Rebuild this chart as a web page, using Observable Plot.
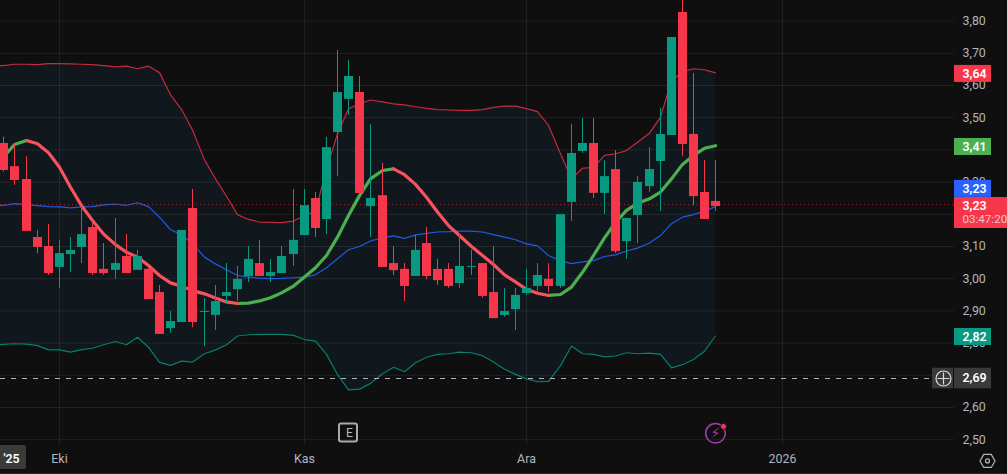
<!DOCTYPE html>
<html>
<head>
<meta charset="utf-8">
<script src="https://cdn.jsdelivr.net/npm/d3@7"></script>
<script src="https://cdn.jsdelivr.net/npm/@observablehq/plot@0.6"></script>
<style>
html,body{margin:0;padding:0;background:#0f0f0f;overflow:hidden}
svg{display:block}
</style>
</head>
<body>
<div id="chart"></div>
<script>
const open  = [3.420,3.348,3.308,3.128,3.100,3.035,3.075,3.097,3.159,3.029,3.026,3.069,3.026,3.029,2.957,2.845,2.864,3.218,2.895,2.886,2.945,2.966,3.007,3.047,3.007,3.016,3.075,3.134,3.249,3.184,3.454,3.557,3.578,3.224,3.258,3.047,3.029,3.007,3.109,3.029,3.029,2.985,3.035,3.047,2.957,2.886,2.904,2.954,2.976,2.998,2.976,3.237,3.395,3.420,3.265,3.339,3.115,3.196,3.286,3.364,3.445,3.827,3.448,3.268,3.240];
const close = [3.336,3.305,3.147,3.097,3.016,3.078,3.088,3.137,3.016,3.016,3.047,3.016,3.069,2.935,2.827,2.867,3.150,2.864,2.898,2.929,2.957,2.998,3.060,3.007,3.019,3.069,3.119,3.227,3.156,3.407,3.578,3.628,3.265,3.249,3.035,3.025,2.976,3.088,3.007,2.994,2.976,3.038,3.038,2.945,2.876,2.898,2.948,2.970,3.010,2.976,3.199,3.389,3.420,3.265,3.317,3.084,3.187,3.299,3.339,3.448,3.749,3.417,3.255,3.184,3.224];
const high  = [3.440,3.419,3.379,3.150,3.168,3.119,3.128,3.224,3.178,3.109,3.187,3.137,3.088,3.038,2.979,2.898,3.150,3.277,2.938,2.979,3.047,3.038,3.100,3.119,3.060,3.100,3.277,3.277,3.268,3.439,3.709,3.678,3.628,3.479,3.358,3.100,3.047,3.134,3.159,3.060,3.047,3.137,3.088,3.047,3.100,2.970,2.970,3.029,3.047,3.047,3.199,3.479,3.498,3.498,3.367,3.398,3.187,3.317,3.407,3.529,3.749,3.900,3.637,3.367,3.367];
const low   = [3.331,3.290,3.147,3.078,3.010,2.970,3.019,3.047,3.010,3.010,2.998,3.016,3.026,2.935,2.827,2.830,2.864,2.848,2.789,2.839,2.920,2.929,2.988,3.007,2.988,3.016,3.038,3.134,3.128,3.137,3.317,3.507,3.265,3.128,3.035,3.010,2.929,3.007,2.997,2.979,2.970,2.970,3.010,2.939,2.876,2.880,2.839,2.948,2.960,2.957,2.970,3.178,3.389,3.249,3.199,3.078,3.060,3.109,3.268,3.209,3.445,3.380,3.227,3.184,3.209];
// Bollinger bands: first value belongs to the bar just left of the visible window
const upper = [3.661,3.662,3.666,3.666,3.665,3.668,3.668,3.667,3.666,3.665,3.662,3.658,3.660,3.652,3.660,3.640,3.571,3.526,3.462,3.369,3.310,3.256,3.199,3.184,3.176,3.175,3.174,3.179,3.196,3.210,3.341,3.450,3.528,3.543,3.555,3.549,3.543,3.540,3.534,3.529,3.525,3.524,3.523,3.523,3.525,3.532,3.536,3.536,3.528,3.519,3.476,3.388,3.310,3.343,3.346,3.383,3.388,3.398,3.424,3.452,3.502,3.615,3.643,3.652,3.649,3.639];
const basis = [3.227,3.228,3.233,3.230,3.227,3.224,3.223,3.220,3.223,3.224,3.229,3.232,3.228,3.236,3.224,3.191,3.152,3.137,3.108,3.067,3.046,3.028,3.010,3.005,3.002,3.000,3.001,3.003,3.005,3.012,3.034,3.062,3.090,3.100,3.117,3.127,3.133,3.125,3.136,3.141,3.145,3.146,3.148,3.148,3.145,3.137,3.129,3.121,3.108,3.102,3.072,3.056,3.047,3.052,3.056,3.069,3.074,3.086,3.095,3.111,3.134,3.171,3.191,3.199,3.210,3.224];
const lower = [2.795,2.796,2.798,2.797,2.792,2.779,2.779,2.772,2.780,2.784,2.795,2.805,2.795,2.818,2.787,2.740,2.731,2.744,2.741,2.767,2.779,2.795,2.822,2.826,2.827,2.827,2.827,2.824,2.811,2.806,2.765,2.702,2.655,2.657,2.675,2.705,2.725,2.711,2.739,2.756,2.765,2.767,2.772,2.770,2.761,2.741,2.719,2.703,2.689,2.680,2.681,2.730,2.791,2.767,2.765,2.757,2.760,2.770,2.767,2.769,2.765,2.723,2.733,2.749,2.775,2.822];
const movingAvg = [3.378,3.417,3.429,3.419,3.391,3.346,3.284,3.227,3.181,3.139,3.106,3.082,3.067,3.041,3.010,2.987,2.977,2.963,2.953,2.940,2.928,2.923,2.924,2.931,2.941,2.956,2.977,3.005,3.034,3.072,3.129,3.196,3.258,3.310,3.336,3.341,3.323,3.293,3.253,3.207,3.165,3.134,3.100,3.072,3.044,3.012,2.990,2.967,2.955,2.948,2.951,2.974,3.020,3.072,3.127,3.175,3.212,3.234,3.248,3.269,3.310,3.355,3.383,3.405,3.413];

const gridPrices = [2.5,2.6,2.7,2.8,2.9,3.0,3.1,3.2,3.3,3.4,3.5,3.6,3.7,3.8];
// 2,70 / 3,20 / 3,40 are wholly covered by badges in the reference
const priceLabels = [2.5,2.6,2.8,2.9,3.0,3.1,3.3,3.5,3.6,3.7,3.8];
const monthBars = [5,27,47,70];
const monthLabels = ["Eki","Kas","Ara","2026"];
const lastPrice = 3.23, crosshairPrice = 2.69;
// badges: centre price (as stacked on the scale), text, colour
const badgePrice = [3.636,3.409,3.279,2.819];
const badgeText = ["3,64","3,41","3,23","2,82"];
const badgeColor = ["#f6374b","#4caf50","#2962ff","#089981"];

const RED="#f6374b", GREEN="#089981", comma=d=>d.toFixed(2).replace(".",",");
const bars=d3.range(open.length), lineBars=d3.range(-1,open.length);
const rising=i=>i>=0&&i<movingAvg.length-1&&movingAvg[i+1]>movingAvg[i];
const maGreen=i=>rising(i)||rising(i-1);
const maRed=i=>(i<movingAvg.length-1&&!rising(i))||(i>0&&!rising(i-1));
const up=i=>close[i]>=open[i];
const BH=0.0264, AX0=85.45, AXB=88.78, EDGE=90.3;
const FONT="Roboto, sans-serif";

const chart=Plot.plot({
  width:1007,height:474,marginLeft:0,marginRight:53,marginTop:0,marginBottom:29,
  style:{background:"#0f0f0f",fontFamily:FONT,fontSize:"12px"},
  x:{domain:[-0.3,85.45],round:true},
  y:{domain:[2.482,3.864]},
  marks:[
    Plot.areaY(lineBars,{x:i=>i,y1:i=>lower[i+1],y2:i=>upper[i+1],fill:"#11181d"}),
    Plot.ruleY(gridPrices,{stroke:"#fff",strokeOpacity:0.075,strokeWidth:1}),
    Plot.ruleX(monthBars,{stroke:"#fff",strokeOpacity:0.075,strokeWidth:1}),
    Plot.line(lineBars,{x:i=>i,y:i=>upper[i+1],stroke:"#c22a3e",strokeWidth:1.2}),
    Plot.line(lineBars,{x:i=>i,y:i=>lower[i+1],stroke:"#067f6c",strokeWidth:1.2}),
    Plot.line(lineBars,{x:i=>i,y:i=>basis[i+1],stroke:"#2458e4",strokeWidth:1.2}),
    Plot.ruleY([lastPrice],{stroke:RED,strokeOpacity:0.6,strokeWidth:1,strokeDasharray:"1 3"}),
    Plot.ruleY([crosshairPrice],{x1:-0.3,x2:83.45,stroke:"#b2b5be",strokeWidth:1,strokeDasharray:"5 6"}),
    Plot.line(bars,{x:i=>i,y:i=>maGreen(i)?movingAvg[i]:NaN,stroke:"#4caf50",strokeWidth:3.2}),
    Plot.line(bars,{x:i=>i,y:i=>maRed(i)?movingAvg[i]:NaN,stroke:"#f7525f",strokeWidth:3.2}),
    Plot.ruleX(bars.filter(up),{x:i=>i,y1:i=>low[i],y2:i=>high[i],stroke:GREEN,strokeWidth:1}),
    Plot.ruleX(bars.filter(i=>!up(i)),{x:i=>i,y1:i=>low[i],y2:i=>high[i],stroke:RED,strokeWidth:1}),
    Plot.ruleX(bars.filter(up),{x:i=>i,y1:i=>open[i],y2:i=>close[i],stroke:GREEN,strokeWidth:9}),
    Plot.ruleX(bars.filter(i=>!up(i)),{x:i=>i,y1:i=>open[i],y2:i=>close[i],stroke:RED,strokeWidth:9}),
    Plot.axisY({anchor:"right",ticks:priceLabels,tickSize:0,tickPadding:8,tickFormat:comma,label:null,fill:"#b2b5be",fontSize:12.4}),
    Plot.axisX({anchor:"bottom",ticks:monthBars,tickSize:0,tickPadding:9,label:null,fill:"#b2b5be",fontSize:12.4,
      tickFormat:d=>monthLabels[monthBars.indexOf(d)],fontWeight:d=>d===70?"bold":"normal"}),
    // price badges
    Plot.rect(badgePrice,{x1:AX0,x2:AXB,y1:d=>d-BH,y2:d=>d+BH,fill:(d,i)=>badgeColor[i]}),
    Plot.text(badgePrice,{x:AX0,dx:8,y:d=>d,text:(d,i)=>badgeText[i],fill:"#fff",fontWeight:600,textAnchor:"start",fontSize:12.4}),
    Plot.rect([3.2],{x1:AX0,x2:EDGE,y1:3.1+(246-228)/322,y2:3.1+(246-197)/322,fill:RED}),
    Plot.text([3.226],{x:AX0,dx:8,y:d=>d,text:()=>"3,23",fill:"#fff",fontWeight:600,textAnchor:"start",fontSize:12.4}),
    Plot.text([3.186],{x:AX0,dx:8,y:d=>d,text:()=>"03:47:20",fill:"#fbc2c8",textAnchor:"start",fontSize:11.6}),
    // crosshair price + add button
    Plot.rect([crosshairPrice],{x1:83.47,x2:85.35,y1:d=>d-0.032,y2:d=>d+0.032,fill:"#3a3a3a"}),
    Plot.rect([crosshairPrice],{x1:AX0,x2:AXB,y1:d=>d-0.032,y2:d=>d+0.032,fill:"#3a3a3a"}),
    Plot.dot([crosshairPrice],{x:84.42,y:d=>d,r:7.5,stroke:"#d8d8d8",strokeWidth:1.2,fill:"none"}),
    Plot.dot([crosshairPrice],{x:84.42,y:d=>d,r:4,symbol:"plus",stroke:"#d8d8d8",strokeWidth:1.2,fill:"none"}),
    Plot.text([crosshairPrice],{x:AX0,dx:8,y:d=>d,text:comma,fill:"#fff",fontWeight:600,textAnchor:"start",fontSize:12.4}),
    // scroll label on time axis
    Plot.rect([0],{x1:-0.5,x2:2.05,y1:2.4075,y2:2.482,fill:"#3a3a3a",r:2}),
    Plot.text(["'25"],{x:0.65,y:2.4385,text:d=>d,fill:"#fff",fontWeight:600,fontSize:12.4}),
    Plot.ruleY([2.395],{x1:-0.3,x2:EDGE,stroke:"#2a2a2a",strokeWidth:1}),
    // earnings marker
    Plot.rect([0],{x1:30.2,x2:31.83,y1:2.493,y2:2.549,fill:"none",stroke:"#aaaaaa",strokeWidth:2,r:2}),
    Plot.text(["E"],{x:31.03,y:2.52,text:d=>d,fill:"#b8b8b8",fontSize:12,fontFamily:FONT}),
    // news marker
    Plot.dot([2.52],{x:64,y:d=>d,r:9.8,stroke:"#9c3fa8",strokeWidth:1.6,fill:"none"}),
    Plot.text(["⚡"],{x:64,y:2.52,text:d=>d,fill:"#9c3fa8",fontSize:14,fontFamily:"DejaVu Sans"}),
    Plot.dot([2.541],{x:64.65,y:d=>d,r:3,fill:RED,stroke:"#0f0f0f",strokeWidth:0.8}),
    // settings hexagon
    Plot.dot([2.434],{x:88.4,y:d=>d,r:6.5,symbol:"hexagon",rotate:30,stroke:"#b2b5be",strokeWidth:1.2,fill:"none"}),
    Plot.dot([2.434],{x:88.4,y:d=>d,r:2,stroke:"#b2b5be",strokeWidth:1.2,fill:"none"})
  ]
});
document.getElementById("chart").append(chart);
</script>
</body>
</html>
